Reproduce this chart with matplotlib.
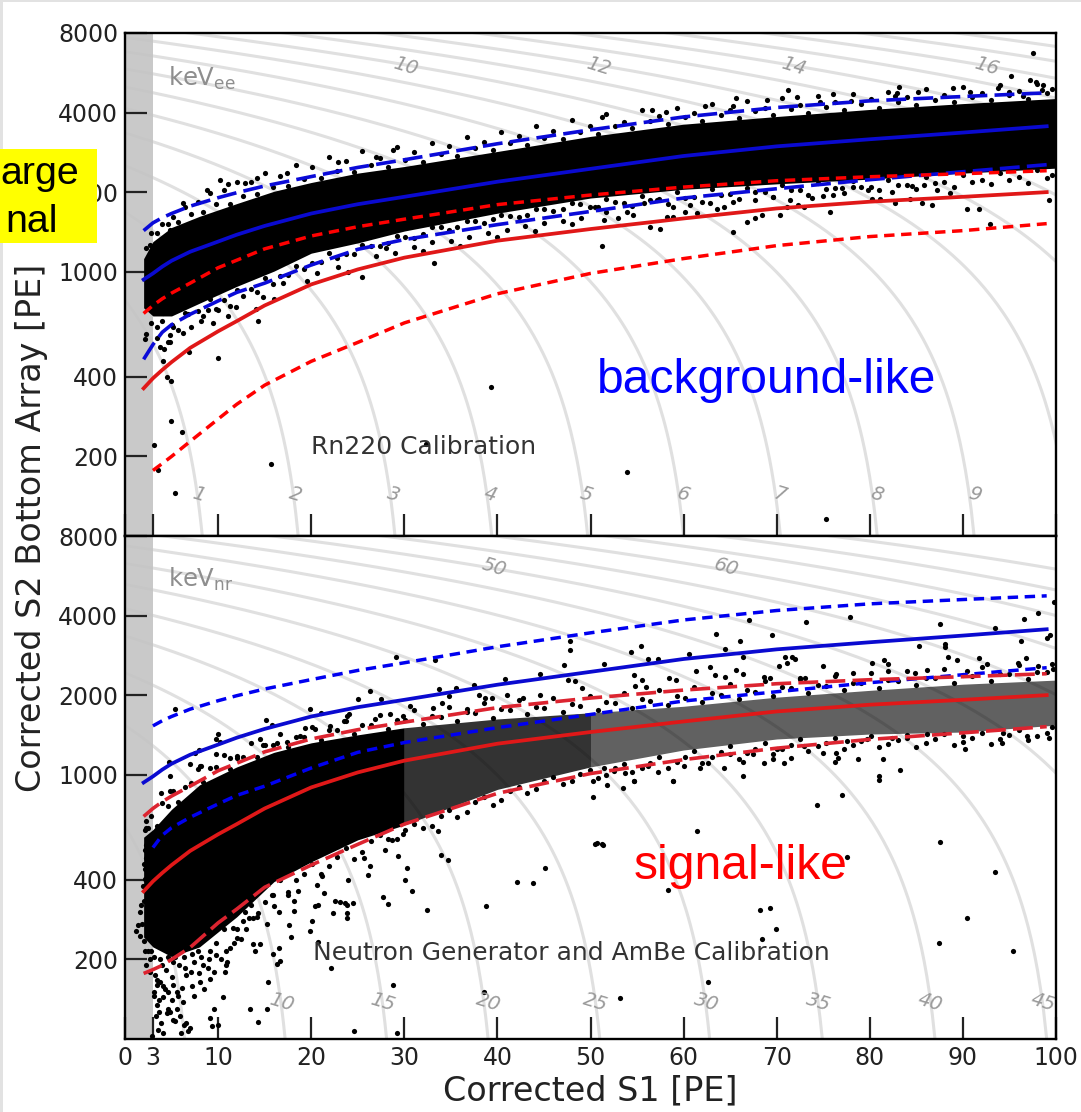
from matplotlib import pyplot as plt
from matplotlib.patches import Rectangle
import numpy as np

# selection curves, S1 [PE] vs S2 bottom [PE]
curve_s1 = [2, 3, 4, 5, 7, 10, 12, 15, 20, 25, 30, 40, 50, 60, 70, 80, 90, 99]
blue_mid = [934, 985, 1045, 1100, 1190, 1300, 1380, 1490, 1660, 1800, 1920, 2190, 2450, 2740, 2980, 3170, 3360, 3550]
blue_hi = [1430, 1530, 1600, 1660, 1770, 1905, 1990, 2110, 2290, 2480, 2651, 3048, 3441, 3850, 4180, 4430, 4600, 4750]
blue_lo = [466, 530, 590, 630, 690, 775, 835, 905, 1060, 1215, 1323, 1507, 1690, 1900, 2060, 2229, 2389, 2540]
red_mid = [362, 395, 425, 455, 515, 595, 650, 745, 895, 1020, 1130, 1310, 1450, 1590, 1735, 1840, 1920, 2000]
red_hi = [695, 745, 790, 830, 905, 1035, 1105, 1220, 1365, 1480, 1580, 1794, 1950, 2090, 2209, 2287, 2348, 2410]
rn_red_lo = [160, 177, 188, 200, 228, 277, 315, 372, 458, 540, 640, 825, 985, 1121, 1255, 1358, 1430, 1520]
nr_red_lo = [177, 183, 190, 200, 222, 275, 310, 375, 455, 545, 650, 850, 1010, 1140, 1260, 1360, 1440, 1520]

# dense part of each calibration band
core_s1 = [2, 3, 5, 8, 12, 16, 20, 25, 30, 40, 50, 60, 70, 80, 90, 100]
rn_core_hi = [1120, 1300, 1470, 1620, 1810, 2015, 2175, 2360, 2500, 2850, 3250, 3615, 3865, 4110, 4325, 4520]
rn_core_lo = [730, 680, 680, 760, 880, 1005, 1175, 1285, 1425, 1665, 1900, 2050, 2150, 2240, 2360, 2465]
nr_core_hi = [580, 620, 740, 915, 1070, 1215, 1320, 1415, 1505, 1625, 1715, 1815, 1965, 2085, 2200, 2280]
nr_core_lo = [243, 223, 205, 223, 290, 394, 468, 567, 645, 880, 1070, 1240, 1365, 1425, 1450, 1540]

# events along the rims of the dense parts, estimated column by column
edge_a = [2.3, 3.4, 4.6, 5.7, 7.1, 8.4, 9.8, 11.3, 12.7, 14.2, 15.9, 17.5, 19.2, 21, 22.8, 24.6, 26.4, 28.3, 30.1, 32,
          33.9, 35.7, 37.6, 39.5, 41.3, 43.2, 45, 47, 48.9, 50.8, 52.6, 54.5, 56.4, 58.3, 60.2, 62, 64, 65.9, 67.7,
          69.6, 71.5, 73.4, 75.3, 77.2, 79.1, 81, 83, 85, 87, 89, 91, 93, 95, 97, 99]
edge_b = [2.8, 4, 5.2, 6.4, 7.8, 9.1, 10.6, 12, 13.5, 15, 16.7, 18.4, 20.1, 21.9, 23.7, 25.5, 27.4, 29.2, 31, 33,
          34.8, 36.7, 38.6, 40.4, 42.3, 44.1, 46, 48, 49.9, 51.7, 53.6, 55.5, 57.4, 59.3, 61.1, 63, 65, 66.8, 68.7,
          70.6, 72.5, 74.4, 76.3, 78.2, 80.1, 82, 84, 86, 88, 90, 92, 94, 96, 98, 99.6]
rn_hi_in = [1230, 1400, 1510, 1540, 1660, 1680, 1800, 1810, 1930, 1960, 2090, 2110, 2240, 2260, 2400, 2390, 2530, 2500, 2640, 2610,
            2790, 2740, 2930, 2890, 3060, 3020, 3210, 3180, 3370, 3330, 3560, 3500, 3710, 3620, 3840, 3730, 3930, 3810, 4040,
            3910, 4120, 3990, 4210, 4080, 4300, 4170, 4390, 4280, 4480, 4370, 4580, 4450, 4650, 4520, 4730]
rn_hi_out = [1400, 1520, 1610, 1750, 1840, 1990, 2030, 2180, 2190, 2360, 2300, 2530, 2480, 2720, 2630, 2850, 2700, 2970, 2830, 3080,
             2990, 3220, 3100, 3390, 3250, 3560, 3420, 3760, 3570, 3950, 3700, 4080, 3880, 4160, 3980, 4300, 4080, 4440, 4180,
             4530, 4290, 4620, 4400, 4720, 4520, 4800, 4600, 4900, 4660, 5000, 4750, 5080, 4840, 5150, 4900]
rn_lo_in = [640, 650, 620, 700, 710, 790, 780, 850, 860, 950, 960, 1050, 1080, 1180, 1170, 1260, 1250, 1370, 1340, 1470,
            1440, 1560, 1530, 1640, 1610, 1730, 1690, 1820, 1760, 1880, 1820, 1940, 1880, 2000, 1920, 2050, 1970, 2080, 2000,
            2120, 2040, 2170, 2080, 2200, 2100, 2230, 2130, 2280, 2180, 2330, 2220, 2370, 2280, 2420, 2330]
rn_lo_out = [580, 560, 540, 600, 620, 680, 720, 740, 810, 840, 900, 970, 1020, 1090, 1130, 1170, 1250, 1280, 1350, 1390,
             1470, 1480, 1560, 1580, 1630, 1640, 1720, 1730, 1800, 1750, 1840, 1780, 1860, 1810, 1900, 1840, 1950, 1880, 2000,
             1920, 2030, 1950, 2060, 1990, 2100, 2040, 2120, 2060, 2160, 2100, 2190, 2140, 2230, 2170, 2270]
nr_hi_in = [630, 640, 760, 790, 930, 940, 1070, 1050, 1170, 1170, 1300, 1270, 1390, 1350, 1470, 1430, 1540, 1490, 1610, 1550,
            1660, 1600, 1710, 1640, 1750, 1690, 1790, 1720, 1820, 1750, 1860, 1790, 1900, 1830, 1950, 1880, 2000, 1930, 2060,
            1990, 2120, 2030, 2160, 2090, 2220, 2130, 2270, 2180, 2320, 2230, 2370, 2270, 2400, 2300, 2440]
nr_hi_out = [700, 780, 870, 900, 1050, 1060, 1190, 1180, 1320, 1290, 1430, 1390, 1520, 1470, 1600, 1540, 1680, 1610, 1750, 1670,
             1810, 1730, 1860, 1780, 1910, 1810, 1950, 1850, 1990, 1890, 2040, 1930, 2090, 1990, 2150, 2030, 2200, 2090, 2270,
             2140, 2320, 2180, 2370, 2230, 2420, 2290, 2470, 2320, 2510, 2380, 2550, 2410, 2590, 2450, 2620]
nr_lo_in = [215, 190, 195, 185, 215, 215, 260, 260, 320, 330, 400, 400, 460, 450, 530, 510, 590, 570, 650, 640,
            735, 725, 820, 800, 900, 880, 980, 950, 1040, 1000, 1100, 1060, 1170, 1120, 1230, 1170, 1280, 1210, 1320,
            1250, 1360, 1280, 1380, 1300, 1400, 1310, 1410, 1320, 1420, 1330, 1440, 1360, 1480, 1400, 1510]
nr_lo_out = [190, 160, 150, 145, 180, 190, 230, 220, 280, 290, 350, 360, 420, 420, 490, 480, 560, 570, 620, 630,
             700, 690, 790, 770, 870, 850, 950, 920, 1010, 970, 1060, 1020, 1110, 1060, 1170, 1110, 1220, 1150, 1250,
             1200, 1300, 1230, 1320, 1250, 1340, 1270, 1350, 1270, 1360, 1290, 1380, 1310, 1410, 1350, 1440]

# single events outside the dense part, top panel
rn_s1 = [2.1, 3.8, 4.2, 4.8, 4.1, 4.5, 4.9, 6.9, 10, 4.9, 6.1, 3.1, 3.5, 5.4, 15.7, 32.3, 39.3, 14.3, 14.1, 16,
         14.8, 19.6, 23.9, 25.5, 33.2, 53.9, 75.3, 51.2, 65.3, 92.9, 97.5, 95.2, 97.2, 97.9, 98.6, 83.1, 71.2, 72.2,
         76, 69, 65.6, 88.9, 93.8, 90.8, 85.2, 82.9, 10.2, 11.1, 8.8, 12.9, 14.2, 17.4, 22.9, 27, 28.8, 6.2, 4.8, 2.7,
         51.4, 56.4, 57.5, 53, 54.6, 58.2, 58.9, 60.1, 61.4, 63.6, 64.3, 66.8, 67.7, 68.4, 70.4, 71.1, 72.3, 75.7,
         80.2, 81.1, 82.7, 84.3, 85.6, 86.7, 90.4, 91.7, 99.2, 88.6, 87.2, 85.8, 84.5, 82.4, 79.8, 78.2, 77, 76.1,
         75, 73.8, 72.9, 71.4, 69.6, 67.7, 65.3, 62.8, 60.7, 58.9, 57.1, 55.7, 53.9, 51.7, 50.5,
         4.1, 3.4, 4.8, 6.2, 8.2, 9.4, 11.1, 11.9, 10, 8.9, 6.8, 5, 17, 20.6, 22.9,
         27, 29, 31, 33, 35, 37, 39, 41, 43, 45, 47, 49, 28, 32, 36, 40, 44, 48,
         51.2, 56.6, 58.1, 62.3, 65.3, 74.7, 78, 82.7, 95, 96.5, 98.5]
rn_s2 = [558, 520, 508, 540, 458, 400, 385, 495, 470, 272, 247, 220, 177, 146, 188, 222, 367, 648, 725, 790,
         805, 925, 1000, 957, 1080, 174, 116, 1255, 1416, 1520, 6700, 5510, 5330, 5240, 5070, 5000, 4880, 4580,
         4720, 4467, 4550, 4960, 4960, 4780, 4780, 4730, 2229, 2150, 2030, 2170, 2270, 2370, 2600, 2720, 2890, 1825, 1443, 1266,
         1574, 1470, 1456, 1597, 1644, 1613, 1613, 1686, 1670, 1733, 1750, 1543, 1597, 1644, 1644, 1750, 1793, 1686,
         1890, 1890, 1820, 1890, 1820, 1793, 1733, 1733, 1860, 1990, 2043, 2134, 2113, 2006, 2043, 2100, 2075, 1956,
         1940, 1905, 1757, 1873, 1922, 1873, 1840, 1820, 1793, 1757, 1873, 1820, 1686, 1686, 1757,
         695, 615, 578, 587, 648, 640, 678, 738, 719, 719, 689, 631, 910, 990, 1040,
         1150, 1180, 1240, 1290, 1310, 1350, 1400, 1440, 1490, 1530, 1560, 1600, 1230, 1200, 1250, 1350, 1420, 1510,
         3850, 4090, 4010, 4230, 4230, 4390, 4430, 4640, 4780, 4640, 4880]

# single events outside the dense part, bottom panel
nr_s1 = [10.5, 9.6, 9.1, 9.3, 10, 13.4, 15.2, 14.3, 15.4, 22.1, 28.8, 24.6, 29.2, 16.5, 15.9, 16.6, 16.3, 14, 13.8, 14.5,
         17.8, 19.9, 20.1, 17.6, 20.7, 23.8, 22.3, 23.8, 23.1, 23.8, 20.7, 21.4, 20.4, 20.6, 21.2, 24, 26.1, 26.3, 25.7,
         28.2, 27.7, 32.4, 30.8, 30.1, 30.3, 29.3, 27.9, 29.9, 28.7, 33.6, 34.7, 33.9,
         61.4, 50.5, 51.3, 58.3, 68.2, 69.3, 69.9, 68.4, 62.6, 53.2, 74.3, 77, 77.5, 87.5, 93.5, 90.4, 87.4, 95.4,
         50.3, 51.8, 53.5, 54.7, 58.9, 81, 38.8, 42.1, 43.8, 45.1, 50.7, 51.2, 38.6, 24.5, 23.6, 22.6,
         5.4, 10, 9.8, 10.2, 4.7, 7.5, 8, 15.1, 15.8, 19.9, 21.1, 24.1, 25, 26.3, 27.5, 29.1, 33.3, 30.6, 33.7, 35.6,
         37.5, 34.8, 38, 40.8, 44.6, 47.1, 47.8, 47.8, 47.6, 48.3, 49.1, 44.6, 42.8, 41, 39.4, 38.7,
         14.5, 14.8, 16.3, 17.4, 18.8, 19.3, 20.4, 22, 23.5, 23.8, 26.9, 28.5, 29.9, 33.1, 34, 36.7, 8.1, 11.3, 12, 9.8, 4.8, 7, 8.2,
         99.8, 98.1, 96.6, 87.5, 77.9, 73.2, 67, 63.5, 66.1, 69.5, 93.4, 99, 99.4, 96.2, 85.3, 88.1, 88.1, 51.4, 54.4,
         55.4, 56.2, 57.2, 60.6, 64.4, 66.4, 70.2, 71.1, 70.9, 71.6, 72, 75, 80.2, 81.5, 82, 88.4, 89.4, 91.7, 92.6, 95.9, 96.8,
         54.7, 55.5, 56, 54.8, 58.4, 59.2, 61.3, 62.8, 63.4, 64.5, 65.6, 66.4, 68.6, 69.3, 72.5, 73, 76.4, 78.2, 82, 84.9, 86.1, 90.4, 98.1, 99.7,
         66.4, 58.9, 54.7, 57.2, 61.8, 64.3, 62.6, 66.4, 68.6, 69.6, 70.8, 71.5, 75, 76.4, 76.6, 76.3, 78.7, 81.4, 83.2, 81,
         90.2, 94.2, 99.2, 90, 96.9, 94.3, 86.1, 84, 82.4, 79.7, 77.5, 72.9, 70, 67.5, 65, 60, 56.2, 53.7, 52.5, 51.4, 50.3,
         4.1, 3.4, 4.8, 5.6, 6.3, 6.8, 4.1, 2.9, 5.4, 6.1, 4.1, 5.2, 7.2, 8.1, 9.1, 10.7, 10.9, 8.9, 9.8, 10.9, 12, 11.6, 3.4, 3.1, 4.6, 3.6,
         13.8, 13.3, 15.2, 14.3, 16, 16.5, 18.1, 17.5, 18.1, 18.6, 15.8, 12.9,
         1.2, 1.8, 1.6, 2, 2.1, 2.3, 2.1, 2.3, 2, 2.5, 2.7, 3.9, 4.8, 2.3, 2.5, 2.1,
         3.2, 3.8, 4.4, 5, 5.8, 6.5, 7.4, 8, 3.1, 3.7, 4.3, 5, 5.6, 6.2, 3.3, 3.9, 4.5, 5.2, 5.9, 6.6, 3.5, 6, 7, 7.4, 8.5,
         9, 9.6, 10.3, 11, 11.7, 12.5, 13, 8.2, 7.2, 6.3, 5.4, 4.6, 3.8, 3.1, 2.7, 2.2, 1.6, 1.4, 1.7, 1.9, 2, 2.2]
nr_s2 = [144, 130, 120, 112, 113, 130, 130, 116, 165, 186, 160, 107, 105, 220, 210, 198, 192, 215, 228, 228,
         243, 256, 279, 270, 232, 286, 301, 301, 329, 321, 321, 356, 318, 382, 414, 398, 417, 450, 482,
         324, 345, 307, 362, 398, 445, 492, 518, 595, 565, 610, 475, 495,
         611, 547, 540, 365, 307, 314, 260, 240, 164, 143, 770, 840, 487, 558, 427, 287, 230, 215,
         820, 917, 894, 950, 950, 957, 318, 391, 388, 445, 550, 547, 150, 326, 326, 332,
         1776, 1430, 1370, 1333, 1120, 1212, 1245, 1613, 1543, 1776, 1717, 1700, 1940, 2075, 1940, 2793, 2720, 1820, 2113, 2134,
         2190, 1990, 2006, 2310, 2410, 2610, 2970, 3200, 2290, 2270, 2134, 2006, 1956, 2006, 1956, 1956,
         1370, 1300, 1323, 1333, 1395, 1507, 1495, 1528, 1597, 1670, 1630, 1700, 1670, 1793, 1860, 1776, 1075, 1161, 1161, 1200, 985, 1100, 1075,
         4510, 4090, 3870, 3710, 3950, 3780, 3850, 3410, 3210, 3385, 3590, 3292, 3385, 3210, 3070, 3130, 3050, 2630, 2920,
         3070, 2745, 2745, 2860, 2995, 2795, 2585, 2652, 2795, 2795, 2745, 2585, 2652, 2720, 2630, 2795, 2720, 2769, 2630, 2652, 2769,
         2390, 2290, 2155, 2175, 2327, 2290, 2474, 2563, 2390, 2348, 2496, 2410, 2348, 2327, 2305, 2327, 2410, 2430, 2474, 2430, 2496, 2474, 2585, 2518,
         985, 950, 950, 1025, 1064, 1064, 1111, 1120, 1111, 1145, 1111, 1161, 1212, 1212, 1161, 1120, 1145, 1145, 1040, 985,
         1255, 1323, 1382, 1405, 1405, 1443, 1430, 1382, 1382, 1370, 1344, 1280, 1255, 1200, 1200, 1075, 1075, 1019, 1036, 1064, 950,
         144, 134, 127, 130, 113, 107, 105, 103, 117, 156, 159, 160, 159, 165, 169, 180, 190, 186, 207, 215, 242, 262, 167, 145, 130, 127,
         286, 286, 272, 299, 319, 302, 304, 350, 332, 362, 350, 302,
         256, 272, 302, 332, 404, 482, 440, 540, 235, 215, 180, 850, 865, 670, 626, 615,
         175, 165, 182, 172, 190, 175, 195, 178, 150, 140, 155, 140, 150, 138, 122, 115, 125, 118, 122, 115, 108, 105, 110, 145, 155,
         200, 180, 200, 195, 230, 240, 260, 205, 210, 205, 205, 205, 200, 205, 200, 215, 245, 270, 320, 380, 460, 520]

# gray iso-energy lines: value at S1=0 and S1 where they leave through S2=100
ee_energy = list(range(1, 21))
ee_s2_start = [780, 1680, 2520, 3350, 4150, 5000, 5850, 6800, 7700, 8580, 9430, 10290, 11150, 12000, 12860, 13700, 14570, 15430, 16300, 17150]
ee_s1_end = [8.3, 18.6, 29, 39.4, 49.7, 60, 70.4, 80.8, 91.2, 101.5, 111.9, 122.2, 132.6, 143, 153.3, 163.7, 174, 184.4, 194.7, 205]
nr_energy = list(range(5, 80, 5))
nr_s2_start = [637, 1537, 2430, 3350, 4250, 5250, 6300, 7350, 8350, 9320, 10300, 11300, 12300, 13300, 14300]
nr_s1_end = [6.4, 17.2, 28.1, 39, 51, 62.8, 74.9, 87, 99, 111, 123, 135, 147, 159, 171]

ee_labels = ['1', '2', '3', '4', '5', '6', '7', '8', '9', '10', '12', '14', '16']
ee_label_px = [199, 295, 393, 490, 586, 683, 780, 877, 975, 405, 598, 793, 986]
nr_labels = ['10', '15', '20', '25', '30', '35', '40', '45', '50', '60']
nr_label_px = [281, 382, 488, 595, 706, 818, 930, 1043, 494, 726]

x_ticks = [0, 3, 10, 20, 30, 40, 50, 60, 70, 80, 90, 100]
y_ticks = [200, 400, 1000, 2000, 4000, 8000]

W, H = 1081, 1112
AX_L, AX_R = 125, 1056
GREY = '#e0e0e0'
LONG = (5.5, 2.0)
SHORT = (3.0, 1.9)

plt.rcParams['font.family'] = ['DejaVu Sans']

fig, (ax1, ax2) = plt.subplots(2, 1, figsize=(W / 100, H / 100), dpi=100, sharex=True)
fig.subplots_adjust(left=AX_L / W, right=AX_R / W, top=1 - 33 / H, bottom=1 - 1039 / H, hspace=0)


def draw_guides(ax, s2_start, s1_end):
    for s2, s1 in zip(s2_start, s1_end):
        ax.plot(np.linspace(0, s1, 300), np.linspace(s2, 100, 300), color=GREY, lw=2.2, zorder=1)


def setup(ax):
    ax.set_yscale('log')
    ax.set_xlim(0, 100)
    ax.set_ylim(100, 8000)
    ax.axvspan(0, 3, color='#c4c4c4', alpha=0.9, lw=0, zorder=1.5)
    ax.set_xticks(x_ticks)
    ax.set_yticks(y_ticks)
    ax.set_yticklabels([str(t) for t in y_ticks])
    ax.minorticks_off()
    ax.tick_params(axis='both', direction='in', length=15.5, width=1.6, labelsize=17,
                   colors='#222222', pad=5)
    for sp in ax.spines.values():
        sp.set_linewidth(1.7)
        sp.set_zorder(10)


def draw_events(ax, hi, lo, dense_to, rims, s1, s2):
    xs = np.array(core_s1)
    ax.fill_between(xs, lo, hi, where=xs <= dense_to, color='black', lw=0, zorder=2)
    if dense_to < 100:
        ax.fill_between(xs, lo, hi, where=(xs >= dense_to) & (xs <= 50), color='black', alpha=0.8, lw=0, zorder=2)
        ax.fill_between(xs, lo, hi, where=xs >= 50, color='black', alpha=0.62, lw=0, zorder=2)
    for rx, ry in rims:
        ax.scatter(rx, ry, s=14, c='black', lw=0, zorder=3)
    ax.scatter(s1, s2, s=14, c='black', lw=0, zorder=3)


def energy_labels(ax, labels, px, py_low, py_high):
    for lab, x in zip(labels, px):
        high = int(lab) >= 50 or lab in ('10', '12', '14', '16') and ax is ax1
        py = py_high if high else py_low
        ax.text((x - AX_L) / (AX_R - AX_L), py, lab, transform=ax.transAxes, color='#9a9a9a',
                fontsize=14, style='italic', rotation=-17, ha='center', va='center', zorder=4)


draw_guides(ax1, ee_s2_start, ee_s1_end)
draw_guides(ax2, nr_s2_start, nr_s1_end)
for ax in (ax1, ax2):
    setup(ax)

draw_events(ax1, rn_core_hi, rn_core_lo, 100,
            [(edge_a, rn_hi_in), (edge_b, rn_hi_out), (edge_b, rn_lo_in), (edge_a, rn_lo_out)], rn_s1, rn_s2)
draw_events(ax2, nr_core_hi, nr_core_lo, 30,
            [(edge_a, nr_hi_in), (edge_b, nr_hi_out), (edge_b, nr_lo_in), (edge_a, nr_lo_out)], nr_s1, nr_s2)

# top panel curves
ax1.plot(curve_s1, blue_mid, color='#0a0ad0', lw=2.7, zorder=5)
ax1.plot(curve_s1, blue_hi, color='#0a0ad8', lw=2.6, dashes=LONG, zorder=5)
ax1.plot(curve_s1, blue_lo, color='#0a0ad8', lw=2.6, dashes=LONG, zorder=5)
ax1.plot(curve_s1, red_mid, color='#e01818', lw=2.7, zorder=5)
ax1.plot(curve_s1, red_hi, color='#ff0000', lw=2.5, dashes=SHORT, zorder=5)
ax1.plot(curve_s1[1:], rn_red_lo[1:], color='#ff0000', lw=2.5, dashes=SHORT, zorder=5)

# bottom panel curves
ax2.plot(curve_s1, blue_mid, color='#0a0ad0', lw=2.7, zorder=5)
ax2.plot(curve_s1[1:], blue_hi[1:], color='#0000f0', lw=2.5, dashes=SHORT, zorder=5)
ax2.plot(curve_s1[1:], blue_lo[1:], color='#0000f0', lw=2.5, dashes=SHORT, zorder=5)
ax2.plot(curve_s1, red_mid, color='#e01818', lw=2.7, zorder=5)
ax2.plot(curve_s1, red_hi, color='#dc2430', lw=2.6, dashes=LONG, zorder=5)
ax2.plot(curve_s1, nr_red_lo, color='#dc2430', lw=2.6, dashes=LONG, zorder=5)

energy_labels(ax1, ee_labels, ee_label_px, 42 / 504, 1 - 33 / 504)
energy_labels(ax2, nr_labels, nr_label_px, 37 / 502, 1 - 31 / 502)

ax1.tick_params(labelbottom=False)
ax2.set_xlabel('Corrected S1 [PE]', fontsize=24, color='#222222', labelpad=3)
fig.text(32 / W, 1 - 528 / H, 'Corrected S2 Bottom Array [PE]', rotation=90, fontsize=24,
         color='#222222', ha='center', va='center')

ax1.text((168 - AX_L) / 931, 1 - 45 / 504, 'keV$_{\\mathrm{ee}}$', transform=ax1.transAxes,
         fontsize=17.5, color='#8e8e8e', va='center', zorder=6)
ax2.text((168 - AX_L) / 931, 1 - 43 / 502, 'keV$_{\\mathrm{nr}}$', transform=ax2.transAxes,
         fontsize=17.5, color='#8e8e8e', va='center', zorder=6)

ax1.text((311 - AX_L) / 931, (537 - 448) / 504, 'Rn220 Calibration', transform=ax1.transAxes,
         fontsize=18, color='#333333', va='center', zorder=6)
ax2.text((313 - AX_L) / 931, (1039 - 953) / 502, 'Neutron Generator and AmBe Calibration', transform=ax2.transAxes,
         fontsize=18, color='#333333', va='center', zorder=6)

ax1.text((767 - AX_L) / 931, (537 - 381) / 504, 'background-like', transform=ax1.transAxes,
         family='Liberation Sans', fontsize=34.6, color='#0000ff', ha='center', va='center', zorder=7)
ax2.text((741 - AX_L) / 931, (1039 - 867) / 502, 'signal-like', transform=ax2.transAxes,
         family='Liberation Sans', fontsize=34.6, color='#ff0000', ha='center', va='center', zorder=7)

# page edge and the yellow note that covers the y tick label
fig.add_artist(Rectangle((0, 0), 3 / W, 1, transform=fig.transFigure, color='#e2e2e2', lw=0))
fig.add_artist(Rectangle((0, 1 - 2 / H), 1, 2 / H, transform=fig.transFigure, color='#e2e2e2', lw=0))
fig.add_artist(Rectangle((0, 1 - 243 / H), 97 / W, 94 / H, transform=fig.transFigure, color='#ffff00', lw=0, zorder=20))
fig.text(79 / W, 1 - 174 / H, 'arge', family='Liberation Sans', fontsize=28.4, color='black',
         ha='right', va='center', zorder=21)
fig.text(58 / W, 1 - 222 / H, 'nal', family='Liberation Sans', fontsize=28.4, color='black',
         ha='right', va='center', zorder=21)

plt.savefig('out.png', dpi=100)
plt.close()
